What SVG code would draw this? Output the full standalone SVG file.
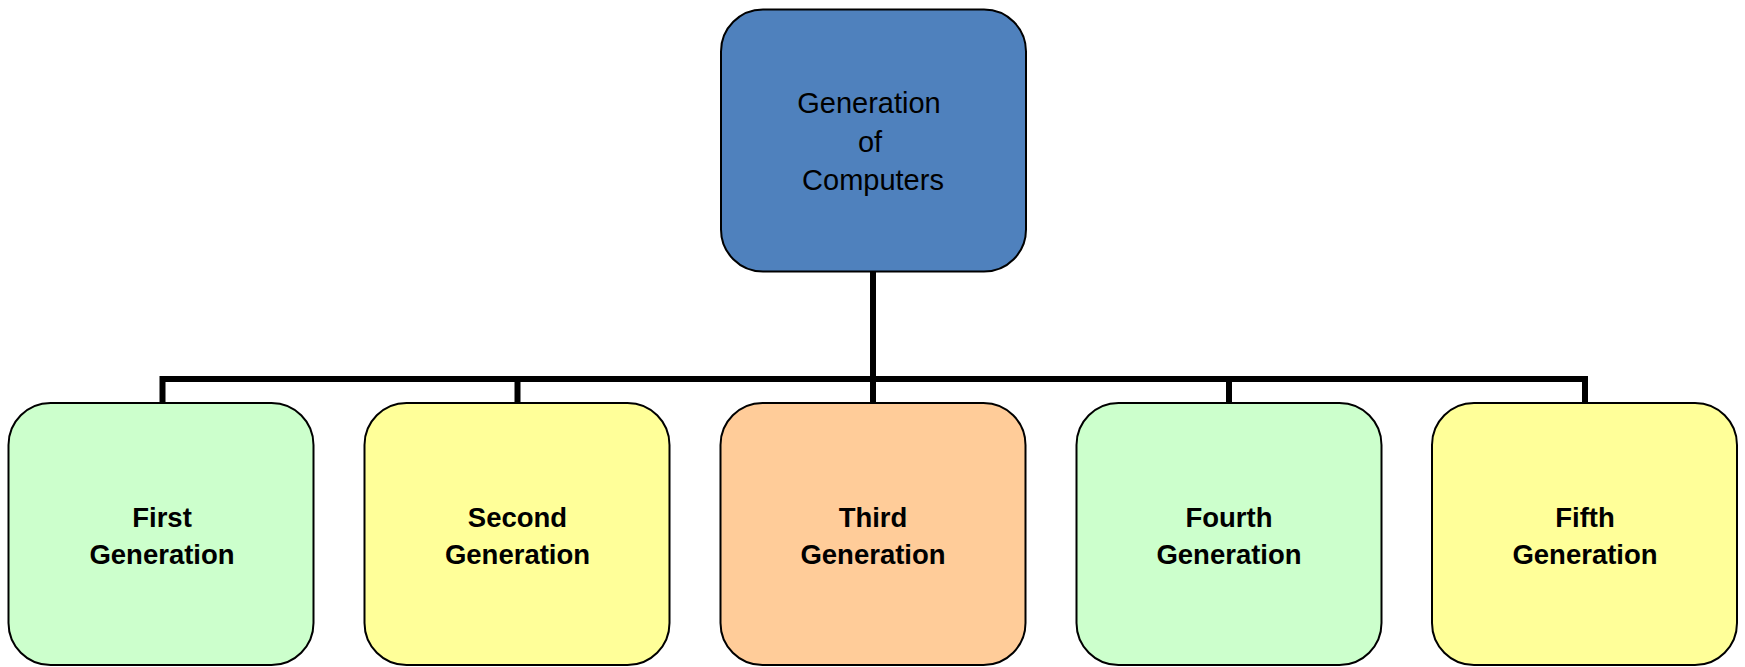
<svg xmlns="http://www.w3.org/2000/svg" width="1745" height="667" viewBox="0 0 1745 667">
<style>
.box{stroke:#000;stroke-width:2}
.root{fill:#4F81BD}
.green{fill:#CCFFCC}
.yellow{fill:#FFFF99}
.orange{fill:#FFCC99}
.t1{font-family:"Liberation Sans",Arial,sans-serif;font-size:29px;fill:#000;text-anchor:middle}
.t2{font-family:"Liberation Sans",Arial,sans-serif;font-size:27.5px;font-weight:bold;fill:#000;text-anchor:middle}
.conn{fill:none;stroke:#000;stroke-width:6;stroke-linejoin:miter;stroke-linecap:butt}
</style>
<rect width="1745" height="667" fill="#fff"/>
<g id="connectors">
<path class="conn" d="M873 271 V403"/>
<path class="conn" d="M162.5 403 V379 H1585 V403"/>
<path class="conn" d="M517.5 379 V403"/>
<path class="conn" d="M1229 379 V403"/>
</g>
<g id="root">
<rect class="box root" x="721" y="9.5" width="305" height="262" rx="42"/>
<text class="t1" x="869" y="113">Generation</text>
<text class="t1" x="870" y="152">of</text>
<text class="t1" x="873" y="190">Computers</text>
</g>
<g id="first">
<rect class="box green" x="8.5" y="403" width="305" height="262" rx="42"/>
<text class="t2" x="162" y="527">First</text>
<text class="t2" x="162" y="564">Generation</text>
</g>
<g id="second">
<rect class="box yellow" x="364.5" y="403" width="305" height="262" rx="42"/>
<text class="t2" x="517.5" y="527">Second</text>
<text class="t2" x="517.5" y="564">Generation</text>
</g>
<g id="third">
<rect class="box orange" x="720.5" y="403" width="305" height="262" rx="42"/>
<text class="t2" x="873" y="527">Third</text>
<text class="t2" x="873" y="564">Generation</text>
</g>
<g id="fourth">
<rect class="box green" x="1076.5" y="403" width="305" height="262" rx="42"/>
<text class="t2" x="1229" y="527">Fourth</text>
<text class="t2" x="1229" y="564">Generation</text>
</g>
<g id="fifth">
<rect class="box yellow" x="1432" y="403" width="305" height="262" rx="42"/>
<text class="t2" x="1585" y="527">Fifth</text>
<text class="t2" x="1585" y="564">Generation</text>
</g>
</svg>
